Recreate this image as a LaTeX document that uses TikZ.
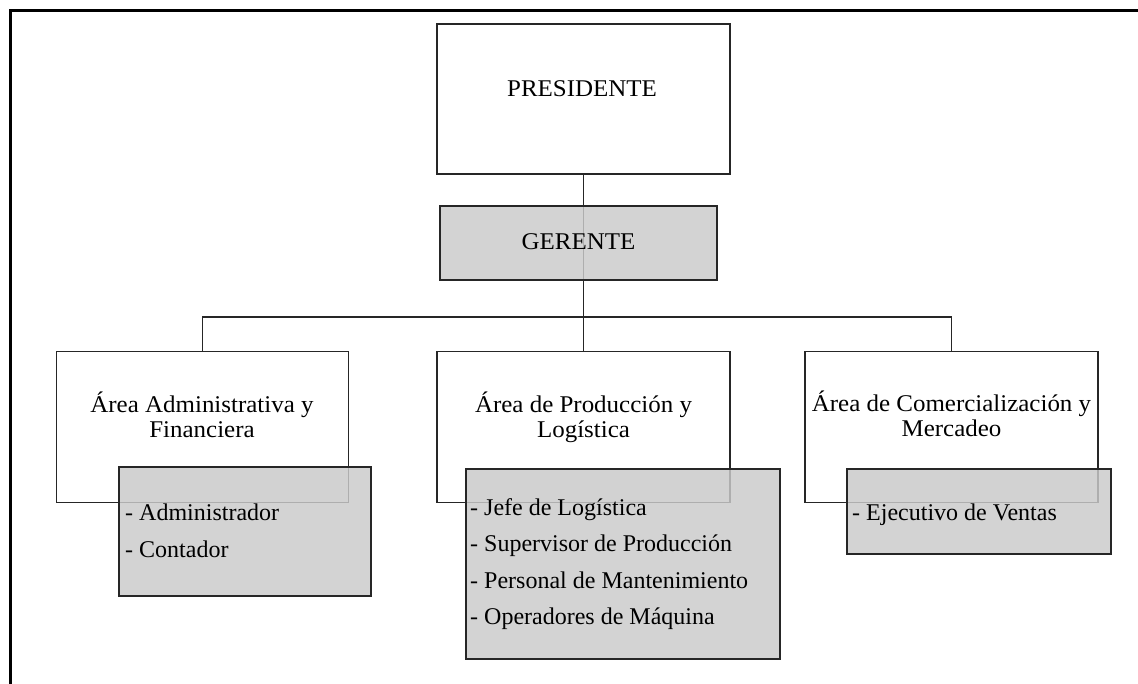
\documentclass[tikz,border=0pt]{standalone}
\usepackage{fontspec}
\setmainfont{Liberation Serif}
\newfontfamily\titlefont{Liberation Serif}[FakeStretch=1.04]
\begin{document}
\begin{tikzpicture}[x=1pt,y=-1pt,
  line/.style={draw=black!85,line width=1.9pt},
  whitebox/.style={line,fill=white,inner sep=0pt},
  graybox/.style={draw=black!85,line width=1.9pt,fill={rgb,255:red,202;green,202;blue,202},
    fill opacity=0.83,draw opacity=1,inner sep=0pt},
  lbl/.style={font=\titlefont\fontsize{24}{28}\selectfont,text=black,inner sep=0pt,anchor=base},
  item/.style={font=\fontsize{24}{28}\selectfont,text=black,inner sep=0pt,anchor=base west}]
\useasboundingbox (0,0) rectangle (1138,684);

% frame
\draw[line width=2.8pt,black] (10.5,684) -- (10.5,10.5) -- (1138,10.5);

% white boxes
\node[whitebox,minimum width=293pt,minimum height=150pt] (pres) at (583.5,99) {};
\node[whitebox,minimum width=292pt,minimum height=151pt] (aadm) at (202.5,427) {};
\node[whitebox,minimum width=293pt,minimum height=151pt] (aprod) at (583.5,427) {};
\node[whitebox,minimum width=293pt,minimum height=151pt] (acom) at (951.5,427) {};

% connectors
\coordinate (bus) at (583.5,317);
\draw[line] (pres.south) -- (aprod.north);
\draw[line] (aadm.north) |- (bus) -| (acom.north);

% gray boxes
\node[graybox,minimum width=277pt,minimum height=74pt] (ger) at (578.5,243) {};
\node[graybox,minimum width=252pt,minimum height=129pt] (gadm) at (245,531.5) {};
\node[graybox,minimum width=314pt,minimum height=190pt] (gprod) at (623,564) {};
\node[graybox,minimum width=264pt,minimum height=85pt] (gcom) at (979,511.5) {};

% titles
\node[lbl] (tpres) at (582,96.5) {PRESIDENTE};
\node[lbl] (tger) at (578.5,250) {GERENTE};
\node[lbl] (tadm1) at (202,412.5) {Área Administrativa y};
\node[lbl] (tadm2) at (202,437) {Financiera};
\node[lbl] (tprod1) at (583.5,412.5) {Área de Producción y};
\node[lbl] (tprod2) at (583.5,437) {Logística};
\node[lbl] (tcom1) at (951.5,412) {Área de Comercialización y};
\node[lbl] (tcom2) at (951.5,436.5) {Mercadeo};

% staff lists
\node[item] (i1) at (125,520.5) {- Administrador};
\node[item] (i2) at (125,557) {- Contador};
\node[item] (i3) at (470,515) {- Jefe de Logística};
\node[item] (i4) at (470,551.5) {- Supervisor de Producción};
\node[item] (i5) at (470,588) {- Personal de Mantenimiento};
\node[item] (i6) at (470,624.5) {- Operadores de Máquina};
\node[item] (i7) at (852,520) {- Ejecutivo de Ventas};
\end{tikzpicture}
\end{document}
